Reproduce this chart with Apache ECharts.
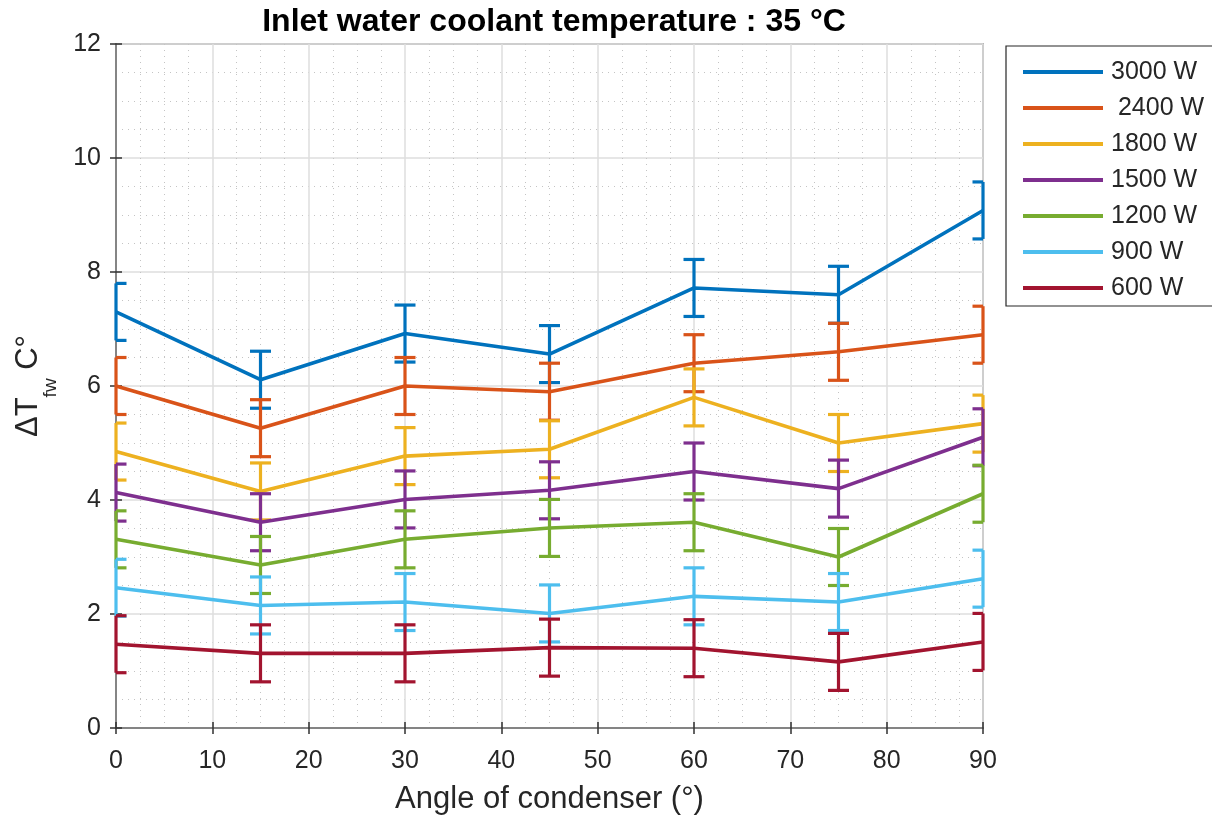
<!DOCTYPE html>
<html>
<head>
<meta charset="utf-8">
<script src="https://cdn.jsdelivr.net/npm/echarts@6/dist/echarts.min.js"></script>
<style>
html,body{margin:0;padding:0;background:#fff;}
#chart{width:1212px;height:823px;}
</style>
</head>
<body>
<div id="chart"></div>
<script>
const angles = [0, 15, 30, 45, 60, 75, 90];
const seriesNames = ['3000 W', ' 2400 W', '1800 W', '1500 W', '1200 W', '900 W', '600 W'];
const colors = ['#0072BD', '#D95319', '#EDB120', '#7E2F8E', '#77AC30', '#4DBEEE', '#A2142F'];
const v3000 = [7.30, 6.11, 6.92, 6.56, 7.72, 7.60, 9.08];
const v2400 = [6.00, 5.26, 6.00, 5.90, 6.40, 6.60, 6.90];
const v1800 = [4.85, 4.15, 4.77, 4.89, 5.80, 5.00, 5.34];
const v1500 = [4.13, 3.61, 4.01, 4.17, 4.50, 4.20, 5.10];
const v1200 = [3.31, 2.86, 3.31, 3.51, 3.61, 3.00, 4.11];
const v900  = [2.46, 2.15, 2.21, 2.01, 2.31, 2.21, 2.62];
const v600  = [1.47, 1.31, 1.31, 1.41, 1.40, 1.16, 1.51];
const e3000 = [0.5, 0.5, 0.5, 0.5, 0.5, 0.5, 0.5];
const e2400 = [0.5, 0.5, 0.5, 0.5, 0.5, 0.5, 0.5];
const e1800 = [0.5, 0.5, 0.5, 0.5, 0.5, 0.5, 0.5];
const e1500 = [0.5, 0.5, 0.5, 0.5, 0.5, 0.5, 0.5];
const e1200 = [0.5, 0.5, 0.5, 0.5, 0.5, 0.5, 0.5];
const e900  = [0.5, 0.5, 0.5, 0.5, 0.5, 0.5, 0.5];
const e600  = [0.5, 0.5, 0.5, 0.5, 0.5, 0.5, 0.5];
const xTicks = [0, 10, 20, 30, 40, 50, 60, 70, 80, 90];
const yTicks = [0, 2, 4, 6, 8, 10, 12];

const values = [v3000, v2400, v1800, v1500, v1200, v900, v600];
const errors = [e3000, e2400, e1800, e1500, e1200, e900, e600];

const FONT = '"Liberation Sans", Arial, Helvetica, sans-serif';
const AXIS_COLOR = '#808080';
const TEXT_COLOR = '#262626';

const chart = echarts.init(document.getElementById('chart'), null, {renderer: 'canvas'});

function errRender(color) {
  return function (params, api) {
    const x = api.value(0), lo = api.value(1), hi = api.value(2);
    const pTop = api.coord([x, hi]);
    const pBot = api.coord([x, lo]);
    const cs = params.coordSys;
    const hw = 10.5;
    const cl = (v) => Math.max(cs.x, Math.min(cs.x + cs.width, v));
    const style = {stroke: color, lineWidth: 3.2, lineCap: 'butt'};
    return {
      type: 'group',
      children: [
        {type: 'line', shape: {x1: pTop[0], y1: pTop[1], x2: pBot[0], y2: pBot[1]}, style: style},
        {type: 'line', shape: {x1: cl(pTop[0] - hw), y1: pTop[1], x2: cl(pTop[0] + hw), y2: pTop[1]}, style: style},
        {type: 'line', shape: {x1: cl(pBot[0] - hw), y1: pBot[1], x2: cl(pBot[0] + hw), y2: pBot[1]}, style: style}
      ]
    };
  };
}

const series = [];
values.forEach((vals, i) => {
  series.push({
    name: seriesNames[i],
    type: 'line',
    data: angles.map((a, j) => [a, vals[j]]),
    showSymbol: false,
    symbol: 'none',
    lineStyle: {color: colors[i], width: 3.6},
    itemStyle: {color: colors[i]},
    z: 2 + i * 2,
    animation: false
  });
  series.push({
    name: seriesNames[i] + ' err',
    type: 'custom',
    renderItem: errRender(colors[i]),
    data: angles.map((a, j) => [a, vals[j] - errors[i][j], vals[j] + errors[i][j]]),
    z: 3 + i * 2,
    silent: true,
    animation: false
  });
});

const tickStyle = {show: true, inside: true, length: 6, lineStyle: {color: '#303030', width: 1.5}};

const option = {
  backgroundColor: '#ffffff',
  animation: false,
  title: {
    text: 'Inlet water coolant temperature : 35 °C',
    left: 549, top: 1, textAlign: 'center',
    textStyle: {fontFamily: FONT, fontSize: 32, fontWeight: 'bold', color: '#000'}
  },
  legend: {
    orient: 'vertical',
    left: 1006, top: 46,
    data: seriesNames,
    icon: 'rect',
    itemWidth: 80, itemHeight: 4,
    itemGap: 10,
    padding: [13, 40, 5, 17],
    borderColor: '#262626', borderWidth: 1.2,
    backgroundColor: '#fff',
    textStyle: {fontFamily: FONT, fontSize: 25, lineHeight: 26, color: TEXT_COLOR, padding: [0, 0, 0, 3]}
  },
  grid: {
    left: 116, right: 229, top: 44, bottom: 95,
    show: true, borderColor: AXIS_COLOR, borderWidth: 1.5, backgroundColor: '#fff'
  },
  xAxis: [{
    type: 'value', min: 0, max: 90, interval: 10,
    name: 'Angle of condenser (°)', nameLocation: 'middle', nameGap: 56,
    nameTextStyle: {fontFamily: FONT, fontSize: 31, color: TEXT_COLOR},
    axisLine: {show: true, lineStyle: {color: AXIS_COLOR, width: 1.5}},
    axisTick: tickStyle,
    minorTick: {show: false, splitNumber: 4},
    axisLabel: {fontFamily: FONT, fontSize: 25, color: TEXT_COLOR, margin: 21,
      formatter: (v) => xTicks.indexOf(v) >= 0 ? String(v) : ''},
    splitLine: {show: true, lineStyle: {color: '#dedede', width: 1.5}},
    minorSplitLine: {show: true, lineStyle: {color: '#c4c4c4', width: 1, type: [1, 5]}}
  }, {
    type: 'value', min: 0, max: 90, interval: 10, position: 'top',
    axisLine: {show: true, lineStyle: {color: AXIS_COLOR, width: 1.5}},
    axisTick: tickStyle,
    axisLabel: {show: false}, splitLine: {show: false}
  }],
  yAxis: [{
    type: 'value', min: 0, max: 12, interval: 2,
    name: '{a|ΔT}{s|fw}{a| C°}', nameLocation: 'middle', nameGap: 56,
    nameTextStyle: {
      fontFamily: FONT, color: TEXT_COLOR,
      rich: {
        a: {fontFamily: FONT, fontSize: 31, color: TEXT_COLOR, lineHeight: 47, verticalAlign: 'top'},
        s: {fontFamily: FONT, fontSize: 19, color: TEXT_COLOR, lineHeight: 47, verticalAlign: 'bottom'}
      }
    },
    axisLine: {show: true, lineStyle: {color: AXIS_COLOR, width: 1.5}},
    axisTick: tickStyle,
    minorTick: {show: false, splitNumber: 4},
    axisLabel: {fontFamily: FONT, fontSize: 25, color: TEXT_COLOR, margin: 15,
      formatter: (v) => yTicks.indexOf(v) >= 0 ? String(v) : ''},
    splitLine: {show: true, lineStyle: {color: '#dedede', width: 1.5}},
    minorSplitLine: {show: true, lineStyle: {color: '#c4c4c4', width: 1, type: [1, 5]}}
  }, {
    type: 'value', min: 0, max: 12, interval: 2, position: 'right',
    axisLine: {show: true, lineStyle: {color: AXIS_COLOR, width: 1.5}},
    axisTick: tickStyle,
    axisLabel: {show: false}, splitLine: {show: false}
  }],
  series: series
};

chart.setOption(option);
</script>
</body>
</html>
